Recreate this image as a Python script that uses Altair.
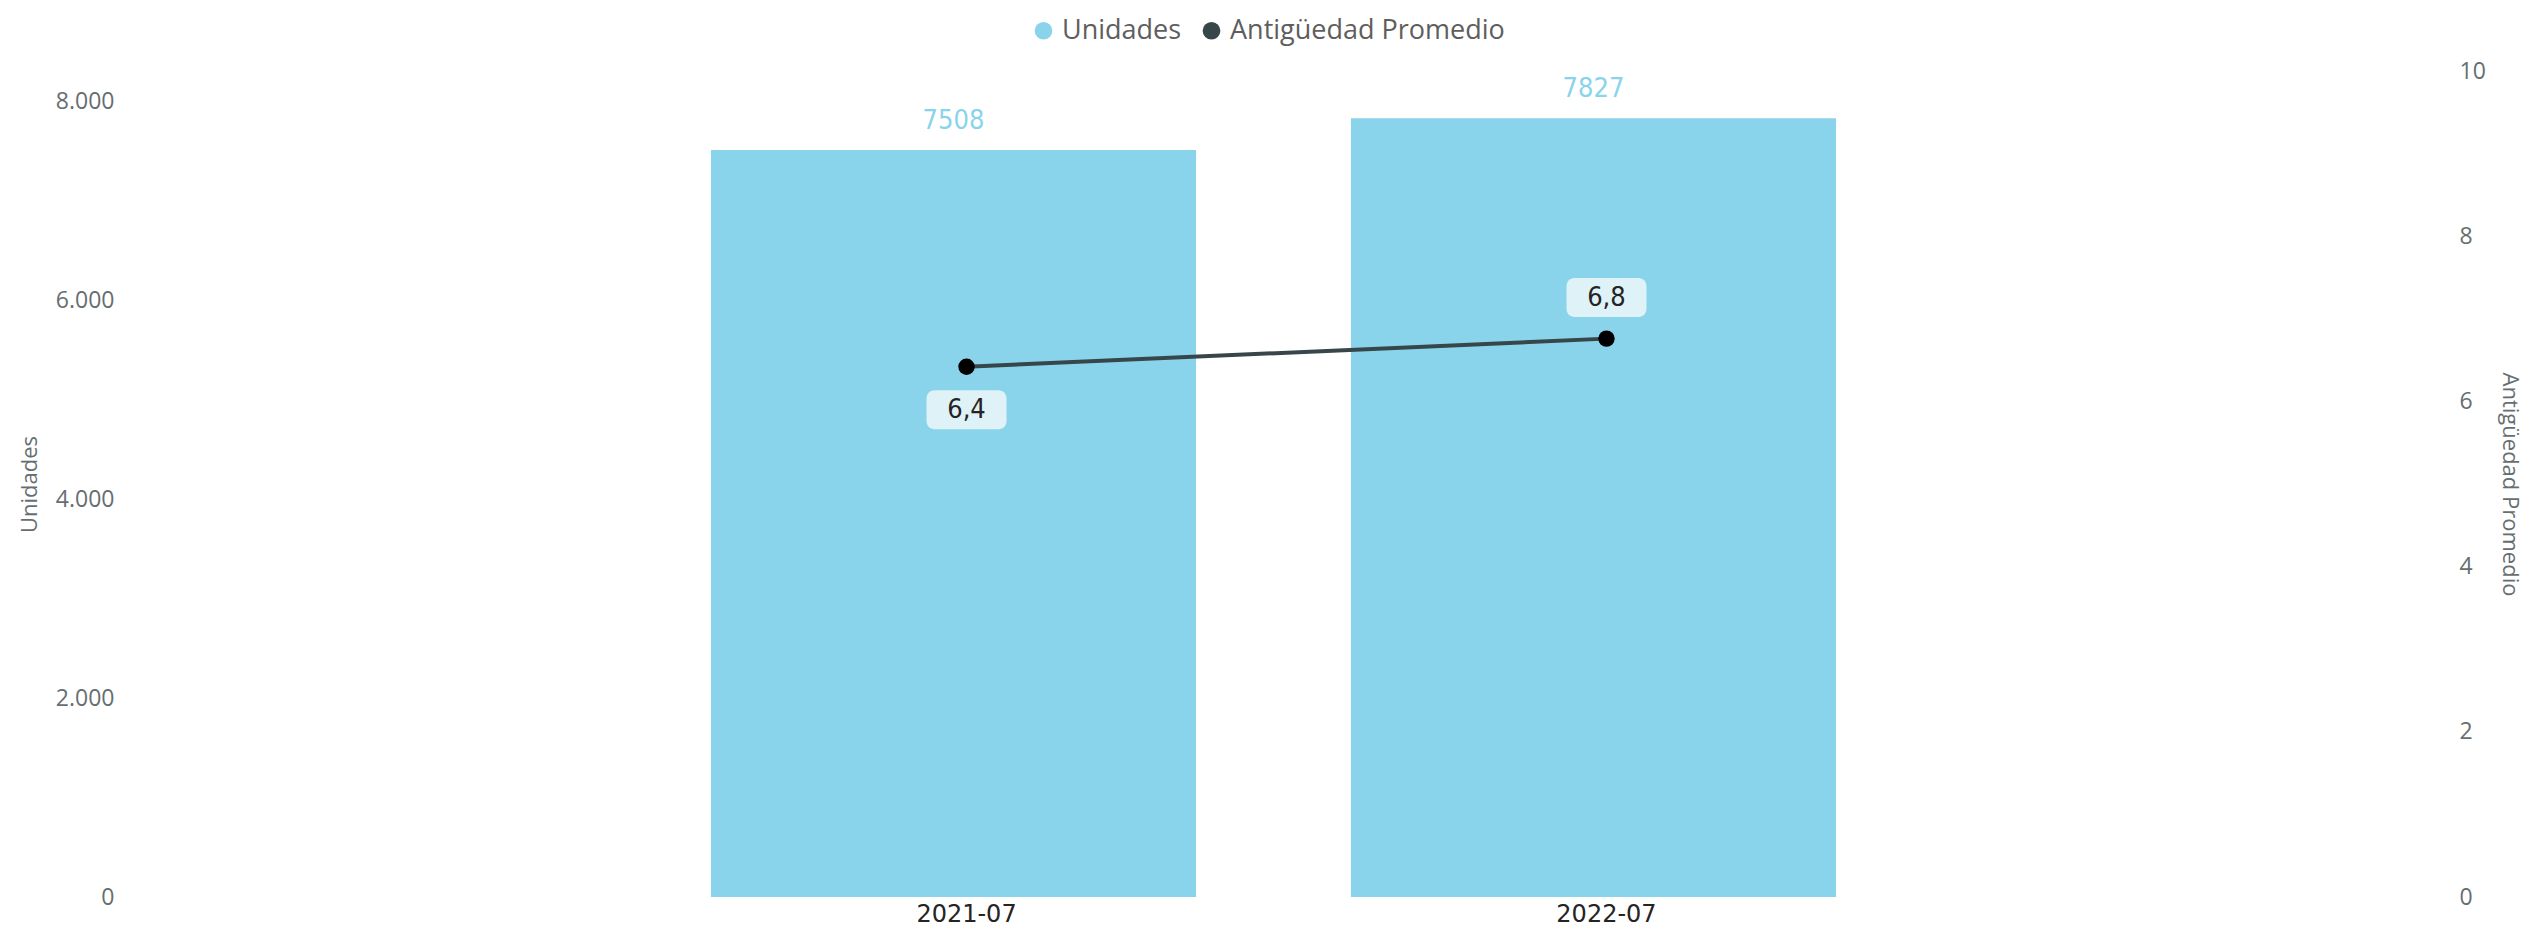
import altair as alt
import pandas as pd

# ---- data ----
periods = ["2021-07", "2022-07"]
unidades = [7508, 7827]
antiguedad = [6.42, 6.76]
label_side = ["below", "above"]
series_names = ["Unidades", "Antigüedad Promedio"]
series_colors = ["#8AD4EB", "#374649"]
left_ticks = [0, 2000, 4000, 6000, 8000]
right_ticks = [0, 2, 4, 6, 8, 10]

df = pd.DataFrame({
    "periodo": periods,
    "unidades": unidades,
    "antig": antiguedad,
    "lado": label_side,
    "serie": [series_names[0]] * len(periods),
})

FONT = "Segoe UI, Open Sans, sans-serif"
NUMFONT = "DejaVu Sans Condensed, Liberation Sans Narrow, sans-serif"
AXIS_GRAY = "#666E70"

x_enc = alt.X(
    "periodo:N", sort=periods, title=None,
    scale=alt.Scale(paddingInner=0.242, paddingOuter=0.9375),
    axis=alt.Axis(labelAngle=0, labelFont="DejaVu Sans", labelFontSize=24,
                  labelColor="#252423", labelPadding=5, ticks=False,
                  domain=False, grid=False),
)

y_left = alt.Y(
    "unidades:Q",
    scale=alt.Scale(domain=[0, 8302], nice=False, zero=True),
    axis=alt.Axis(values=left_ticks,
                  labelExpr="replace(format(datum.value, ','), ',', '.')",
                  title="Unidades", grid=False, ticks=False, domain=False,
                  labelFont=FONT, labelFontSize=23, labelColor=AXIS_GRAY,
                  labelPadding=10, titleFont=FONT, titleFontSize=22,
                  titleFontWeight="normal", titleColor=AXIS_GRAY,
                  titlePadding=14),
)

bars = alt.Chart(df).mark_bar(xOffset=-13).encode(
    x=x_enc,
    y=y_left,
    color=alt.Color(
        "serie:N",
        scale=alt.Scale(domain=series_names, range=series_colors),
        legend=alt.Legend(orient="none", legendX=906, legendY=-54,
                          direction="horizontal", title=None,
                          symbolType="circle", symbolSize=314,
                          symbolStrokeWidth=0, labelFont=FONT,
                          labelFontSize=27, labelColor="#605E5C",
                          columnPadding=16, labelOffset=5, labelLimit=0),
    ),
)

bar_labels = alt.Chart(df).mark_text(
    xOffset=-13, dy=-29, font=NUMFONT, fontSize=27, color=series_colors[0],
    baseline="middle", align="center",
).encode(
    x=x_enc,
    y=alt.Y("unidades:Q"),
    text=alt.Text("unidades:Q", format="d"),
)

left_layer = alt.layer(bars, bar_labels)

y_right = alt.Y(
    "antig:Q",
    scale=alt.Scale(domain=[0, 10], nice=False, zero=True),
    axis=alt.Axis(orient="right", values=right_ticks, format="d",
                  title="Antigüedad Promedio",
                  grid=False, ticks=False, domain=False,
                  labelFont=FONT, labelFontSize=23, labelColor=AXIS_GRAY,
                  labelPadding=10, titleFont=FONT, titleFontSize=22,
                  titleFontWeight="normal", titleColor=AXIS_GRAY,
                  titlePadding=12),
)

line = alt.Chart(df).mark_line(color=series_colors[1], strokeWidth=4).encode(
    x=x_enc, y=y_right,
)
points = alt.Chart(df).mark_point(filled=True, color="#000000", size=270,
                                  opacity=1, strokeWidth=0).encode(
    x=x_enc, y=alt.Y("antig:Q"),
)

BOX = ("M-0.8,-0.4875 L0.8,-0.4875 A0.2,0.2 0 0 1 1,-0.2875 L1,0.2875 "
       "A0.2,0.2 0 0 1 0.8,0.4875 L-0.8,0.4875 A0.2,0.2 0 0 1 -1,0.2875 "
       "L-1,-0.2875 A0.2,0.2 0 0 1 -0.8,-0.4875 Z")

def value_label(side, offset):
    base = alt.Chart(df).transform_filter(
        alt.datum.lado == side
    ).transform_calculate(
        etiqueta="replace(format(datum.antig, '.1f'), '.', ',')"
    )
    box = base.mark_point(shape=BOX, size=6400, filled=True, color="#DFF2F8",
                          opacity=1, strokeWidth=0, yOffset=offset).encode(
        x=x_enc, y=alt.Y("antig:Q"),
    )
    txt = base.mark_text(font=NUMFONT, fontSize=27, color="#252423",
                         baseline="middle", align="center", yOffset=offset).encode(
        x=x_enc, y=alt.Y("antig:Q"), text="etiqueta:N",
    )
    return [box, txt]

right_layer = alt.layer(line, points, *value_label("below", 43),
                        *value_label("above", -41))

chart = alt.layer(left_layer, right_layer).resolve_scale(
    y="independent"
).properties(
    width=2325, height=826,
    padding={"left": 116, "top": 63, "right": 84, "bottom": 34},
    autosize=alt.AutoSizeParams(type="none"),
    background="white",
).configure_view(stroke=None)

chart.save("out.html", embed_options={"renderer": "svg", "actions": False})
